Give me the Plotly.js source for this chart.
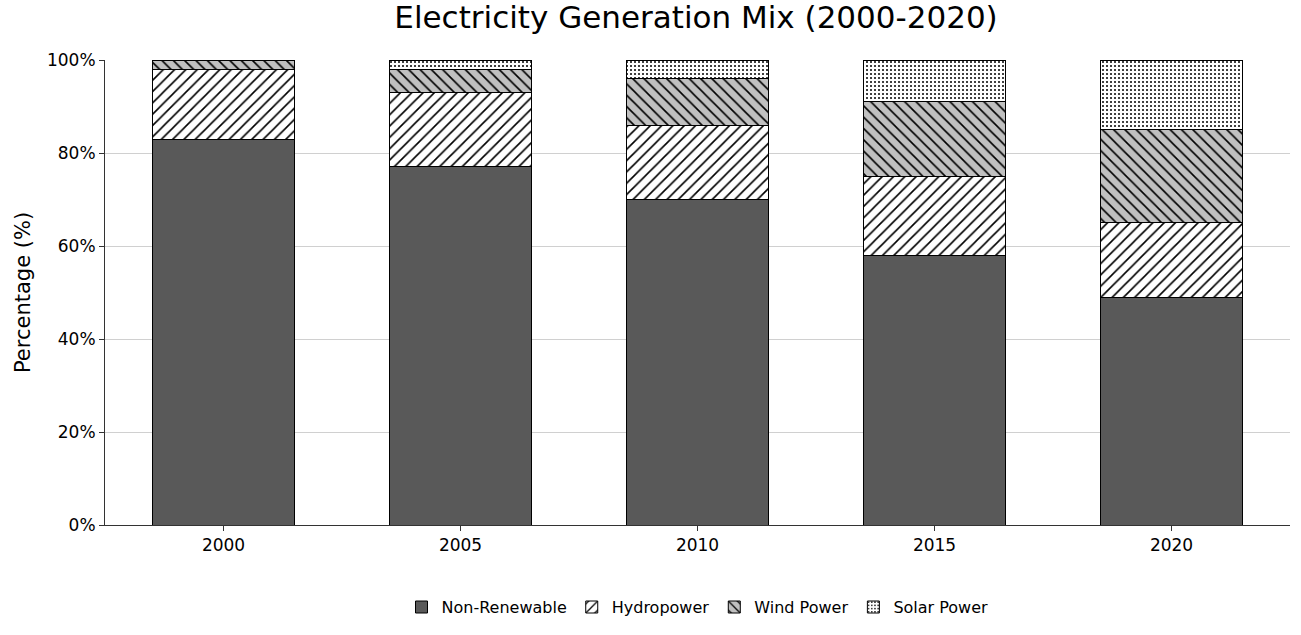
<!DOCTYPE html>
<html>
<head>
<meta charset="utf-8">
<script src="https://cdn.plot.ly/plotly-3.0.1.min.js"></script>
<style>body{margin:0;} #chart{width:1301px;height:635px;}</style>
</head>
<body>
<div id="chart"></div>
<script>
var years = ['2000', '2005', '2010', '2015', '2020'];
var nonRenewable = [83, 77, 70, 58, 49];
var hydropower = [15, 16, 16, 17, 16];
var windPower = [2, 5, 10, 16, 20];
var solarPower = [0, 2, 4, 9, 15];

function bar(name, values, fill, shape, size) {
    return {
        type: 'bar', name: name, x: years, y: values, width: 0.6,
        marker: {
            color: fill,
            line: {color: '#000', width: 1},
            pattern: {shape: shape, fgcolor: '#000', bgcolor: fill, size: size, solidity: 0.2}
        }
    };
}

var data = [
    bar('Non-Renewable', nonRenewable, '#595959', '', 8),
    bar('Hydropower', hydropower, '#ffffff', '/', 8),
    bar('Wind Power', windPower, '#c0c0c0', '\\', 8),
    bar('Solar Power', solarPower, '#ffffff', '.', 4)
];

var layout = {
    barmode: 'stack',
    font: {family: 'DejaVu Sans', size: 17, color: '#000'},
    paper_bgcolor: '#fff', plot_bgcolor: '#fff',
    margin: {l: 105, r: 11, t: 60, b: 108},
    title: {text: 'Electricity Generation Mix (2000-2020)', font: {size: 31}, x: 0.535, y: 0.99, yanchor: 'top'},
    xaxis: {type: 'category', showline: true, linecolor: '#333', ticks: 'outside', ticklen: 5, tickcolor: '#333', showgrid: false},
    yaxis: {
        range: [0, 100], ticksuffix: '%', dtick: 20, showline: true, linecolor: '#333',
        ticks: 'outside', ticklen: 5, tickcolor: '#333', gridcolor: '#d0d0d0', zeroline: false,
        title: {text: 'Percentage (%)', font: {size: 21}, standoff: 10}
    },
    legend: {orientation: 'h', x: 0.5, xanchor: 'center', y: -0.14, yanchor: 'top', traceorder: 'normal', font: {size: 16}},
    showlegend: true
};

Plotly.newPlot('chart', data, layout, {displayModeBar: false});
</script>
</body>
</html>
